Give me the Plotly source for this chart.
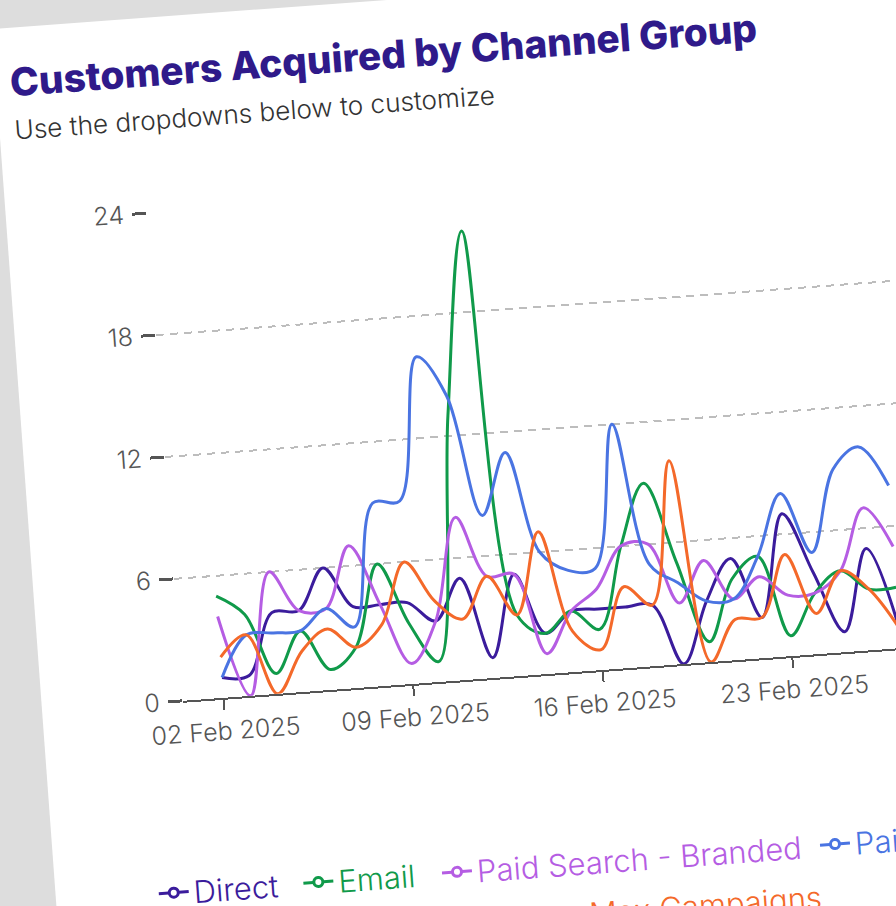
import plotly.graph_objects as go
import pandas as pd

# ---- data (daily values, 02 Feb 2025 onwards) ----
dates = pd.date_range("2025-02-02", "2025-02-27", freq="D")
direct = [1, 1, 4, 4, 6, 4, 4, 4, 3, 5, 1, 5, 2, 3, 3, 3, 3, 0, 3, 5, 2, 7, 4, 1, 5, 1]
email = [5, 4, 1, 3, 1, 2, 6, 3, 1, 13, 22, 3, 2, 3, 2, 6, 9, 5, 1, 4, 5, 1, 3, 4, 3, 3]
paid_branded = [4, 0, 6, 4, 4, 7, 4, 1, 3, 8, 5, 5, 1, 3, 4, 6, 6, 3, 5, 3, 4, 3, 3, 4, 7, 5]
paid_generic = [1, 3, 3, 3, 4, 3, 9, 9, 16, 14, 8, 11, 6, 5, 5, 12, 5, 4, 3, 3, 5, 8, 5, 9, 10, 8]
pmax = [2, 3, 0, 2, 3, 2, 3, 6, 4, 3, 5, 3, 7, 2, 1, 4, 3, 10, 0, 2, 2, 5, 2, 4, 3, 1]

series_names = ["Direct", "Email", "Paid Search - Branded",
                "Paid Search - Generic", "Performance Max Campaigns"]
series_values = [direct, email, paid_branded, paid_generic, pmax]
colors = ["#3b1c9c", "#109a4a", "#b55de3", "#4a74e2", "#f4692a"]
y_ticks = [0, 6, 12, 18, 24]

# ---- layout geometry (unrotated card) ----
W, H = 1080, 970
ML, MT, MR = 141, 195, 20
PH = 489
MB = H - MT - PH
PW = W - ML - MR
PX_PER_DAY = 27.15
x_start = pd.Timestamp("2025-02-02") - pd.Timedelta(hours=36.25)
x_end = x_start + pd.Timedelta(days=PW / PX_PER_DAY)

FONT = "Inter"
AXIS_GREY = "#555555"

fig = go.Figure()
for name, vals, col in zip(series_names, series_values, colors):
    fig.add_trace(go.Scatter(
        x=dates, y=vals, name=name, mode="lines",
        line=dict(color=col, width=3, shape="spline", smoothing=1.0),
        showlegend=False, hoverinfo="x+y+name"))

# legend entries (one legend per entry so each can sit where it does in the chart)
legend_pos = [(103, 875), (248, 875), (387, 875), (766, 875), (301, 926)]
legend_layouts = {}
for i, (name, col, (fx, fy)) in enumerate(zip(series_names, colors, legend_pos)):
    key = "legend" if i == 0 else f"legend{i + 1}"
    fig.add_trace(go.Scatter(
        x=[None], y=[None], name=name, mode="lines+markers",
        line=dict(color=col, width=3),
        marker=dict(symbol="circle", size=9, color="white",
                    line=dict(color=col, width=3)),
        legend=key, showlegend=True, hoverinfo="skip"))
    legend_layouts[key] = dict(
        xref="container", yref="container",
        x=(fx - 5) / W, y=1 - fy / H, xanchor="left", yanchor="middle",
        orientation="h", bgcolor="rgba(0,0,0,0)", borderwidth=0,
        font=dict(family=FONT, size=31, color=col, weight=300))

fig.update_layout(
    width=W, height=H,
    margin=dict(l=ML, r=MR, t=MT, b=MB, pad=0),
    paper_bgcolor="white", plot_bgcolor="white",
    font=dict(family=FONT, color=AXIS_GREY),
    title=dict(text="Customers Acquired by Channel Group",
               font=dict(family=FONT, size=38.9, color="#2f1a8a", weight=800),
               xref="container", x=14 / W, xanchor="left",
               yref="container", y=1 - 55 / H, yanchor="middle"),
    annotations=[dict(text="Use the dropdowns below to customize",
                      xref="paper", yref="paper",
                      x=(13 - ML) / PW, y=(684.6 - 103) / PH,
                      xanchor="left", yanchor="middle", showarrow=False,
                      font=dict(family=FONT, size=26.2, color="#333333", weight=300))],
    xaxis=dict(type="date", range=[x_start, x_end],
               tick0="2025-02-02", dtick=7 * 24 * 3600 * 1000,
               tickformat="%d %b %Y",
               showgrid=False, zeroline=False,
               showline=True, linecolor=AXIS_GREY, linewidth=2,
               ticks="outside", ticklen=10, tickwidth=2, tickcolor=AXIS_GREY,
               tickfont=dict(family=FONT, size=25, color=AXIS_GREY, weight=300)),
    yaxis=dict(range=[0, 24], tickvals=y_ticks,
               showgrid=True, gridcolor="#bdbdbd", gridwidth=1.5,
               griddash="8px,6px",
               zeroline=False, showline=False,
               ticks="outside", ticklen=14, tickwidth=2.5, tickcolor=AXIS_GREY,
               ticklabelstandoff=3,
               tickfont=dict(family=FONT, size=25, color=AXIS_GREY, weight=300)),
    **legend_layouts,
)

post = """
var gd = document.getElementById('{plot_id}');
var de = document.documentElement;
de.style.overflow = 'hidden'; de.style.background = '#dddddd';
document.body.style.margin = '0';
document.body.style.background = '#dddddd';
document.body.style.overflow = 'hidden';
gd.style.position = 'absolute';
gd.style.left = '-8.2px';
gd.style.top = '28.6px';
gd.style.transformOrigin = '0 0';
gd.style.transform = 'rotate(-4.2deg)';
"""

fig.write_html("out.html", config={"displayModeBar": False}, post_script=post)
